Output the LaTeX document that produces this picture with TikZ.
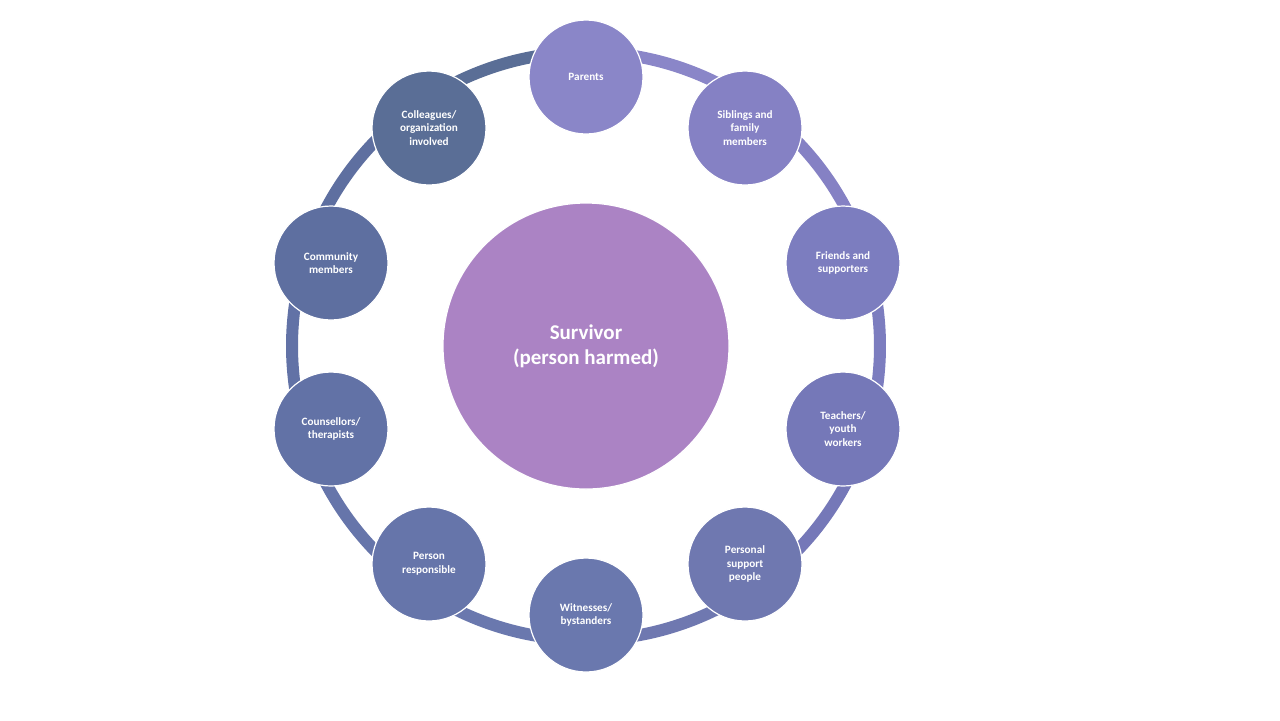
\documentclass[tikz,border=0pt]{standalone}
\usepackage{fontspec}
\setmainfont{Carlito}
\begin{document}
\begin{tikzpicture}[x=0.5pt,y=-0.5pt,
 sat/.style={circle,draw=white,line width=0.6pt,minimum size=57pt,inner sep=0pt,align=center,text=white,font=\bfseries\fontsize{5.6}{6.8}\selectfont}]
\useasboundingbox (0,0) rectangle (1280,720);
\fill[white] (0,0) rectangle (1280,720);
\definecolor{c0}{HTML}{8A86C8}\definecolor{c1}{HTML}{8581C4}\definecolor{c2}{HTML}{7C7DBF}
\definecolor{c3}{HTML}{7578B8}\definecolor{c4}{HTML}{6F78B0}\definecolor{c5}{HTML}{6A78AE}
\definecolor{c6}{HTML}{6675AA}\definecolor{c7}{HTML}{6272A6}\definecolor{c8}{HTML}{5E6FA0}
\definecolor{c9}{HTML}{5A6E96}\definecolor{cc}{HTML}{AB83C4}
\foreach \i in {0,...,9}{
 \pgfmathsetmacro\a{90-36*\i}
 \pgfmathsetmacro\b{\a-36}
 \draw[c\i,line width=6pt] plot[domain=\a:\b,samples=30,smooth] ({586+294*cos(\x)},{346-294*sin(\x)});
}
\node[circle,fill=cc,draw=white,line width=0.6pt,minimum size=143pt,text=white,align=center,font=\bfseries\fontsize{10.5}{12.5}\selectfont] (s) at (586,346) {Survivor\\(person harmed)};
\node[sat,fill=c0] (n0) at (586,77) {Parents};
\node[sat,fill=c1] (n1) at (745,128) {Siblings and\\family\\members};
\node[sat,fill=c2] (n2) at (843,263) {Friends and\\supporters};
\node[sat,fill=c3] (n3) at (843,429) {Teachers/\\youth\\workers};
\node[sat,fill=c4] (n4) at (745,564) {Personal\\support\\people};
\node[sat,fill=c5] (n5) at (586,615) {Witnesses/\\bystanders};
\node[sat,fill=c6] (n6) at (429,564) {Person\\responsible};
\node[sat,fill=c7] (n7) at (331,429) {Counsellors/\\therapists};
\node[sat,fill=c8] (n8) at (331,263) {Community\\members};
\node[sat,fill=c9] (n9) at (429,128) {Colleagues/\\organization\\involved};
\end{tikzpicture}
\end{document}
